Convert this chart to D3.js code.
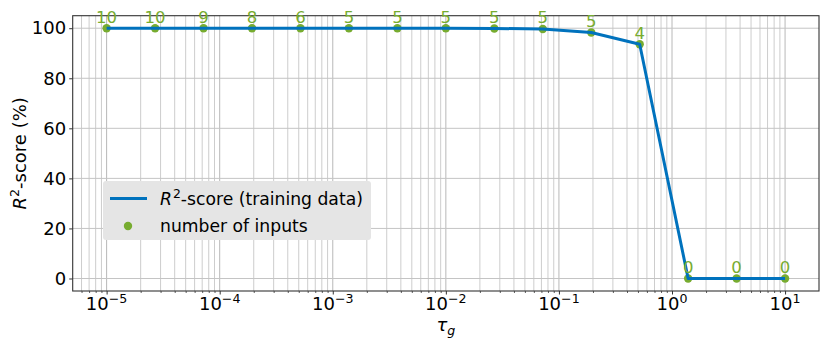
<!DOCTYPE html>
<html>
<head>
<meta charset="utf-8">
<script src="https://cdn.jsdelivr.net/npm/d3@7"></script>
<style>
  body { margin: 0; background: #fff; }
  text { font-family: "DejaVu Sans", sans-serif; }
</style>
</head>
<body>
<div id="chart"></div>
<script>
// tau_g values (log-spaced sweep) and results
const tauValues = [1e-5, 2.683e-5, 7.197e-5, 1.931e-4, 5.179e-4, 1.389e-3, 3.728e-3,
    1e-2, 2.683e-2, 7.197e-2, 0.1931, 0.5179, 1.389, 3.728, 10];
const r2Scores = [100, 100, 100, 100, 100, 100, 100, 100, 99.9, 99.7, 98.3, 93.6, 0, 0, 0];
const numInputs = [10, 10, 9, 8, 6, 5, 5, 5, 5, 5, 5, 4, 0, 0, 0];
const yTicks = [0, 20, 40, 60, 80, 100];
const xTickExponents = [-5, -4, -3, -2, -1, 0, 1];
const legendLabels = ['R²-score (training data)', 'number of inputs'];

const blue = '#0072bd';
const green = '#77ac30';

const width = 830, height = 346;
const margin = { top: 15.7, right: 11, bottom: 55, left: 72.7 };
const innerW = width - margin.left - margin.right;
const innerH = height - margin.top - margin.bottom;

const svg = d3.select('#chart').append('svg')
    .attr('width', width)
    .attr('height', height);

const xScale = d3.scaleLog()
    .domain([Math.pow(10, -5.3), Math.pow(10, 1.3)])
    .range([0, innerW]);
const yScale = d3.scaleLinear()
    .domain([-5, 105])
    .range([innerH, 0]);

const focus = svg.append('g')
    .attr('transform', 'translate(' + margin.left + ',' + margin.top + ')');

// minor / major x positions
const minorX = [];
for (let e = -6; e <= 1; e++) {
    for (let m = 2; m <= 9; m++) {
        const v = m * Math.pow(10, e);
        if (v > xScale.domain()[0] && v < xScale.domain()[1]) minorX.push(v);
    }
}
const majorX = xTickExponents.map(e => Math.pow(10, e));

// Grid
const grid = focus.append('g').attr('class', 'grid');
grid.selectAll('.minor-x')
    .data(minorX)
    .enter().append('line')
    .attr('x1', d => xScale(d)).attr('x2', d => xScale(d))
    .attr('y1', 0).attr('y2', innerH)
    .attr('stroke', '#cdcdcd').attr('stroke-width', 1);
grid.selectAll('.major-x')
    .data(majorX)
    .enter().append('line')
    .attr('x1', d => xScale(d)).attr('x2', d => xScale(d))
    .attr('y1', 0).attr('y2', innerH)
    .attr('stroke', '#b8b8b8').attr('stroke-width', 1);
grid.selectAll('.major-y')
    .data(yTicks)
    .enter().append('line')
    .attr('x1', 0).attr('x2', innerW)
    .attr('y1', d => yScale(d)).attr('y2', d => yScale(d))
    .attr('stroke', '#c4c4c4').attr('stroke-width', 1);

// Axes
const xAxis = d3.axisBottom(xScale)
    .tickValues(majorX)
    .tickSize(3.5)
    .tickFormat('');
const xAxisG = focus.append('g')
    .attr('transform', 'translate(0,' + innerH + ')')
    .call(xAxis);
xAxisG.select('.domain').remove();
xAxisG.selectAll('line').attr('stroke', '#333');

const xMinorAxis = d3.axisBottom(xScale)
    .tickValues(minorX)
    .tickSize(2)
    .tickFormat('');
const xMinorG = focus.append('g')
    .attr('transform', 'translate(0,' + innerH + ')')
    .call(xMinorAxis);
xMinorG.select('.domain').remove();
xMinorG.selectAll('line').attr('stroke', '#333').attr('stroke-width', 0.8);

// x tick labels with superscript exponents
const xLabels = focus.append('g').selectAll('text')
    .data(xTickExponents)
    .enter().append('text')
    .attr('x', d => xScale(Math.pow(10, d)))
    .attr('y', innerH + 19.5)
    .attr('text-anchor', 'middle')
    .attr('font-size', '18px')
    .attr('fill', '#000');
xLabels.append('tspan').text('10');
xLabels.append('tspan')
    .attr('dy', -7.5)
    .attr('font-size', '12.6px')
    .text(d => d < 0 ? '\u2212' + Math.abs(d) : String(d));

const yAxis = d3.axisLeft(yScale)
    .tickValues(yTicks)
    .tickSize(3.5)
    .tickPadding(3)
    .tickFormat(d3.format('d'));
const yAxisG = focus.append('g').call(yAxis);
yAxisG.select('.domain').remove();
yAxisG.selectAll('line').attr('stroke', '#333');
yAxisG.selectAll('text')
    .attr('font-size', '18px')
    .attr('font-family', '"DejaVu Sans", sans-serif')
    .attr('fill', '#000');

// Frame
focus.append('rect')
    .attr('width', innerW)
    .attr('height', innerH)
    .attr('fill', 'none')
    .attr('stroke', '#333')
    .attr('stroke-width', 1.1);

// Data
const points = tauValues.map((t, i) => ({ tau: t, r2: r2Scores[i], n: numInputs[i] }));

focus.selectAll('.dot')
    .data(points)
    .enter().append('circle')
    .attr('class', 'dot')
    .attr('cx', d => xScale(d.tau))
    .attr('cy', d => yScale(d.r2))
    .attr('r', 4.2)
    .attr('fill', green);

const line = d3.line()
    .x(d => xScale(d.tau))
    .y(d => yScale(d.r2));
focus.append('path')
    .datum(points)
    .attr('d', line)
    .attr('fill', 'none')
    .attr('stroke', blue)
    .attr('stroke-width', 3)
    .attr('stroke-linejoin', 'round');

focus.selectAll('.num-label')
    .data(points)
    .enter().append('text')
    .attr('class', 'num-label')
    .attr('x', d => xScale(d.tau))
    .attr('y', d => yScale(d.r2) - 5.5)
    .attr('text-anchor', 'middle')
    .attr('font-size', '16.5px')
    .attr('fill', green)
    .text(d => d.n);

// Axis labels
svg.append('text')
    .attr('transform', 'translate(26,' + (margin.top + innerH / 2) + ') rotate(-90)')
    .attr('text-anchor', 'middle')
    .attr('font-size', '18px')
    .html('<tspan font-style="italic">R</tspan><tspan dy="-7.5" font-size="12.6px">2</tspan><tspan dy="7.5">-score (%)</tspan>');

svg.append('text')
    .attr('x', margin.left + innerW / 2)
    .attr('y', 331)
    .attr('text-anchor', 'middle')
    .attr('font-size', '18px')
    .html('<tspan font-style="italic">τ</tspan><tspan dy="4" font-size="12.6px" font-style="italic">g</tspan>');

// Legend
const legend = svg.append('g').attr('transform', 'translate(103,181)');
legend.append('rect')
    .attr('width', 268)
    .attr('height', 59)
    .attr('rx', 3)
    .attr('fill', '#e5e5e5');
legend.append('line')
    .attr('x1', 7).attr('x2', 44)
    .attr('y1', 17.5).attr('y2', 17.5)
    .attr('stroke', blue)
    .attr('stroke-width', 3);
legend.append('circle')
    .attr('cx', 25).attr('cy', 45)
    .attr('r', 4.2)
    .attr('fill', green);
legend.append('text')
    .attr('x', 57).attr('y', 23.5)
    .attr('font-size', '17.2px')
    .html('<tspan font-style="italic">R</tspan><tspan dx="1" dy="-7" font-size="12.4px">2</tspan><tspan dy="7">' + legendLabels[0].slice(2) + '</tspan>');
legend.append('text')
    .attr('x', 57).attr('y', 51)
    .attr('font-size', '17.2px')
    .text(legendLabels[1]);
</script>
</body>
</html>
